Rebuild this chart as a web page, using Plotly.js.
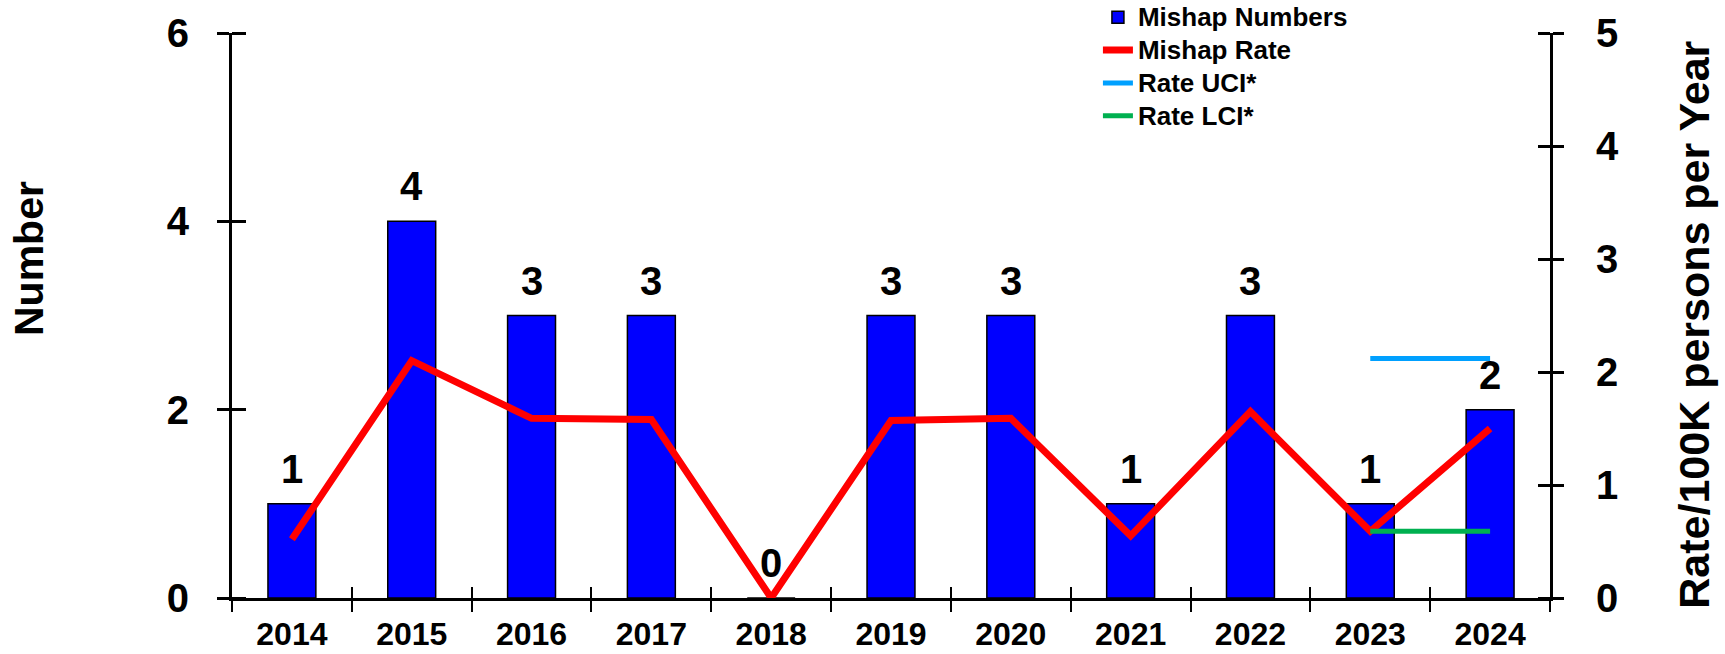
<!DOCTYPE html>
<html>
<head>
<meta charset="utf-8">
<script src="https://cdn.plot.ly/plotly-3.0.1.min.js"></script>
<style>
  html, body { margin: 0; padding: 0; background: #fff; }
  #chart { width: 1725px; height: 654px; }
</style>
</head>
<body>
<div id="chart"></div>
<script>
// ---- data ----
const years = ['2014','2015','2016','2017','2018','2019','2020','2021','2022','2023','2024'];
const mishapNumbers = [1, 4, 3, 3, 0, 3, 3, 1, 3, 1, 2];
const mishapRate = [0.52, 2.10, 1.59, 1.58, 0, 1.57, 1.59, 0.55, 1.65, 0.59, 1.50];
const ciYears = ['2023', '2024'];
const rateUCI = [2.12, 2.12];
const rateLCI = [0.59, 0.59];
const seriesNames = ['Mishap Numbers', 'Mishap Rate', 'Rate UCI*', 'Rate LCI*'];
const leftTicks = [0, 2, 4, 6];
const rightTicks = [0, 1, 2, 3, 4, 5];

const FONT = 'Liberation Sans, Arial, Helvetica, sans-serif';
const bold = (size) => ({ family: FONT, size: size, color: '#000', weight: 'bold' });
const legendName = (s) => '<span style="font-size:26px">' + s + '</span>';

const firstEdge = -0.5;
const lastEdge = years.length - 0.5;
const boundaries = years.map((_, i) => i - 0.5).concat([lastEdge]);

const traces = [
  {
    type: 'bar', name: legendName(seriesNames[0]), x: years, y: mishapNumbers,
    width: 0.4,
    marker: { color: '#0000FF', line: { color: '#000', width: 1.5 } },
    hoverinfo: 'x+y'
  },
  {
    type: 'scatter', mode: 'lines', name: legendName(seriesNames[1]), x: years, y: mishapRate,
    yaxis: 'y2', line: { color: '#FF0000', width: 7 }
  },
  {
    type: 'scatter', mode: 'lines', name: legendName(seriesNames[2]), x: ciYears, y: rateUCI,
    yaxis: 'y2', line: { color: '#00A0FF', width: 5 }
  },
  {
    type: 'scatter', mode: 'lines', name: legendName(seriesNames[3]), x: ciYears, y: rateLCI,
    yaxis: 'y2', line: { color: '#00B050', width: 5 }
  },
  // empty helper trace so the x tick-overlay axis (crossing ticks) is drawn
  { type: 'scatter', mode: 'none', x: [null], y: [null], xaxis: 'x2', yaxis: 'y', showlegend: false, hoverinfo: 'skip' }
];

const annotations = mishapNumbers.map((v, i) => ({
  x: i, y: v, xref: 'x', yref: 'y',
  text: String(v), showarrow: false, yanchor: 'bottom', yshift: 11,
  font: bold(40)
}));
annotations.push({
  x: -0.154, y: 0.60, xref: 'paper', yref: 'paper', xanchor: 'center', yanchor: 'middle',
  text: 'Number', textangle: -90, showarrow: false, font: bold(41)
});
annotations.push({
  x: 1.109, y: 0.483, xref: 'paper', yref: 'paper', xanchor: 'center', yanchor: 'middle',
  text: 'Rate/100K persons per Year', textangle: -90, showarrow: false, font: bold(43)
});

const layout = {
  width: 1725, height: 654,
  margin: { l: 232, r: 175, t: 33, b: 56, autoexpand: false },
  paper_bgcolor: '#fff', plot_bgcolor: '#fff',
  showlegend: true,
  legend: {
    x: 0.657, y: 1.066, xanchor: 'left', yanchor: 'top',
    font: bold(23), bgcolor: 'rgba(0,0,0,0)', tracegroupgap: 0,
    itemwidth: 30
  },
  xaxis: {
    type: 'category', range: [firstEdge, lastEdge],
    tickson: 'boundaries', ticks: 'outside', ticklen: 11, tickwidth: 2, tickcolor: '#000',
    showline: true, linecolor: '#000', linewidth: 3,
    tickfont: bold(32), ticklabelstandoff: 6,
    showgrid: false, zeroline: false, fixedrange: true
  },
  xaxis2: {
    overlaying: 'x', anchor: 'y', type: 'linear', range: [firstEdge, lastEdge],
    tickmode: 'array', tickvals: boundaries, ticks: 'inside', ticklen: 11, tickwidth: 2, tickcolor: '#000',
    showticklabels: false, showline: false, showgrid: false, zeroline: false
  },
  yaxis: {
    range: [0, 6], tickmode: 'array', tickvals: leftTicks,
    ticks: 'outside', ticklen: 12, tickwidth: 3, tickcolor: '#000',
    minor: { tickmode: 'array', tickvals: leftTicks, ticks: 'inside', ticklen: 14, tickwidth: 3, tickcolor: '#000', showgrid: false },
    showline: true, linecolor: '#000', linewidth: 3,
    tickfont: bold(40), ticklabelstandoff: 20,
    showgrid: false, zeroline: false
  },
  yaxis2: {
    overlaying: 'y', side: 'right', anchor: 'x',
    range: [0, 5], tickmode: 'array', tickvals: rightTicks,
    ticks: 'outside', ticklen: 11, tickwidth: 3, tickcolor: '#000',
    minor: { tickmode: 'array', tickvals: rightTicks, ticks: 'inside', ticklen: 12, tickwidth: 3, tickcolor: '#000', showgrid: false },
    showline: true, linecolor: '#000', linewidth: 3,
    tickfont: bold(40), ticklabelstandoff: 24,
    showgrid: false, zeroline: false
  },
  annotations: annotations
};

Plotly.newPlot('chart', traces, layout, { displayModeBar: false, staticPlot: true });
</script>
</body>
</html>
